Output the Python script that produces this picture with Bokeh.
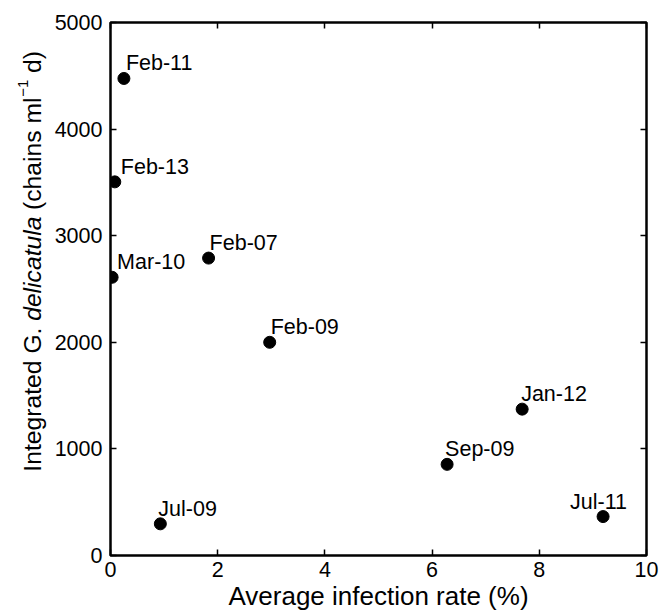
import math
from bokeh.plotting import figure
from bokeh.layouts import row
from bokeh.models import Range1d, FixedTicker, LinearAxis, ColumnDataSource
from bokeh.core.properties import value
from bokeh.embed import file_html
from bokeh.resources import INLINE

# ---- data ----
months = ["Feb-11", "Feb-13", "Mar-10", "Feb-07", "Feb-09", "Jul-09", "Jan-12", "Sep-09", "Jul-11"]
infection_rate = [0.25, 0.08, 0.03, 1.83, 2.97, 0.93, 7.68, 6.28, 9.19]
integrated_g = [4475, 3505, 2610, 2790, 2000, 297, 1373, 855, 365]
x_ticks = [0, 2, 4, 6, 8, 10]
y_ticks = [0, 1000, 2000, 3000, 4000, 5000]
x_title = "Average infection rate (%)"
y_title_parts = ["Integrated G.", "delicatula", "(chains ml", "\u22121", "d)"]

# ---- layout constants ----
FONT = "Liberation Sans"
TW = 50                      # width of the y-title strip
W, H = 661 - TW, 613
BL, BR, BT, BB = 110 - TW, 15, 22, 57
FH = H - BT - BB
label_dx = [2, 6, 5, 1, 1, -2, -1, -2, -33]

src = ColumnDataSource(dict(x=infection_rate, y=integrated_g, lab=months, dx=label_dx))

p = figure(width=W, height=H, output_backend="svg", toolbar_location=None,
           x_range=Range1d(x_ticks[0], x_ticks[-1]), y_range=Range1d(y_ticks[0], y_ticks[-1]),
           min_border_left=BL, min_border_right=BR, min_border_top=BT, min_border_bottom=BB)
p.grid.visible = False
p.background_fill_color = "white"
p.border_fill_color = "white"
p.outline_line_color = "black"
p.outline_line_width = 2.5

def style_axis(ax, ticks, show_labels):
    ax.axis_line_color = None
    ax.major_tick_in = 6
    ax.major_tick_out = 0
    ax.major_tick_line_width = 1.5
    ax.major_tick_line_color = "black"
    ax.minor_tick_in = 0
    ax.minor_tick_out = 0
    ax.minor_tick_line_color = None
    if show_labels:
        ax.major_label_text_font = FONT
        ax.major_label_text_font_size = "21.5px"
        ax.major_label_text_color = "black"
    else:
        ax.major_label_overrides = {t: "" for t in ticks}
        ax.major_label_text_font_size = "1px"
        ax.major_label_standoff = 0

p.xaxis.ticker = FixedTicker(ticks=x_ticks)
p.yaxis.ticker = FixedTicker(ticks=y_ticks)
style_axis(p.xaxis[0], x_ticks, True)
style_axis(p.yaxis[0], y_ticks, True)
p.xaxis.major_label_standoff = 6
p.yaxis.major_label_standoff = 8
p.xaxis.axis_label = x_title
p.xaxis.axis_label_text_font = FONT
p.xaxis.axis_label_text_font_size = "26px"
p.xaxis.axis_label_text_font_style = "normal"
p.xaxis.axis_label_text_color = "black"
p.xaxis.axis_label_standoff = 1

top = LinearAxis(ticker=FixedTicker(ticks=x_ticks))
style_axis(top, x_ticks, False)
p.add_layout(top, "above")
right = LinearAxis(ticker=FixedTicker(ticks=y_ticks))
style_axis(right, y_ticks, False)
p.add_layout(right, "right")

p.scatter("x", "y", source=src, size=12, color="black")
p.text("x", "y", text="lab", source=src, x_offset="dx", y_offset=-15,
       text_font=value(FONT), text_font_size="21.5px", text_color="black",
       text_align="left", text_baseline="alphabetic")

# ---- y-title strip (rich text: italic species name, superscript) ----
t = figure(width=TW, height=H, output_backend="svg", toolbar_location=None,
           x_range=Range1d(0, TW), y_range=Range1d(0, FH),
           min_border_left=0, min_border_right=0,
           min_border_top=BT, min_border_bottom=BB)
t.axis.visible = False
t.grid.visible = False
t.outline_line_color = None
t.background_fill_color = "white"
t.border_fill_color = "white"

base_x = 32            # baseline (px from left)
base_y = 84            # start of the text (px above the frame bottom)
offsets = [0.0, 151.1, 262.2, 375.7, 399.5]
styles = ["normal", "italic", "normal", "normal", "normal"]
sizes = ["24.7px", "24.7px", "24.7px", "15px", "24.7px"]
raises = [0, 0, 0, 10, 0]
for txt, off, sty, sz, rz in zip(y_title_parts, offsets, styles, sizes, raises):
    t.text(x=[base_x - rz], y=[base_y + off], text=[txt], angle=math.pi / 2,
           text_font=value(FONT), text_font_style=sty, text_font_size=sz,
           text_color="black", text_align="left", text_baseline="alphabetic")

layout = row(t, p, spacing=0)
open("out.html", "w").write(file_html(layout, INLINE))
